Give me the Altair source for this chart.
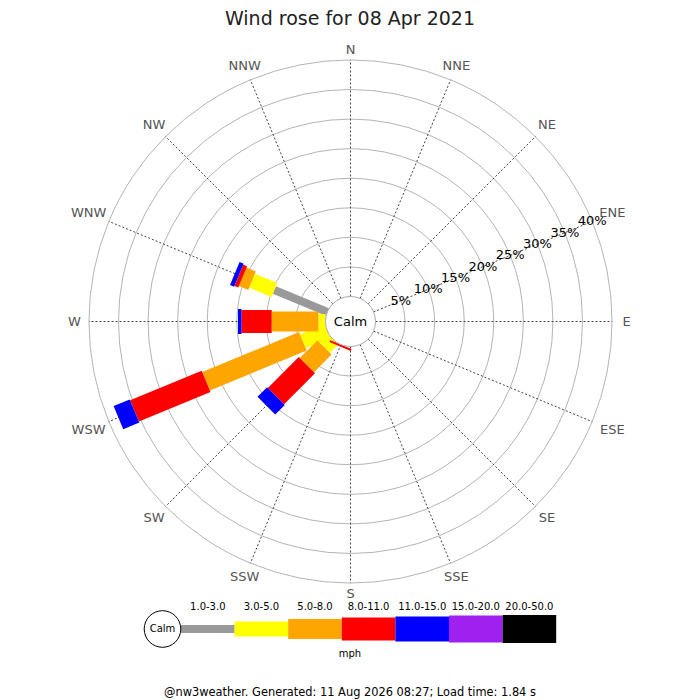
import altair as alt
import pandas as pd

# ---------------- data ----------------
directions = ["N", "NNE", "NE", "ENE", "E", "ESE", "SE", "SSE",
              "S", "SSW", "SW", "WSW", "W", "WNW", "NW", "NNW"]
bands = ["1.0-3.0", "3.0-5.0", "5.0-8.0", "8.0-11.0", "11.0-15.0", "15.0-20.0", "20.0-50.0"]
band_colors = ["#999999", "#ffff00", "#ffa500", "#ff0000", "#0000ff", "#a020f0", "#000000"]
band_widths = [8, 15, 20, 23, 25, 27, 28]

#            N  NNE NE ENE E ESE SE SSE S  SSW   SW   WSW   W    WNW   NW NNW
pct_1_3   = [0, 0, 0, 0, 0, 0, 0, 0, 0, 0,    0.0, 0.0,  0.0, 9.7,  0, 0]
pct_3_5   = [0, 0, 0, 0, 0, 0, 0, 0, 0, 0,    2.0, 4.5,  1.2, 4.1,  0, 0]
pct_5_8   = [0, 0, 0, 0, 0, 0, 0, 0, 0, 0,    4.2, 17.7, 7.9, 1.7,  0, 0]
pct_8_11  = [0, 0, 0, 0, 0, 0, 0, 0, 0, 0.35, 7.4, 13.1, 5.1, 0.7,  0, 0]
pct_11_15 = [0, 0, 0, 0, 0, 0, 0, 0, 0, 0,    2.3, 2.95, 0.6, 0.75, 0, 0]
pct_15_20 = [0] * 16
pct_20_50 = [0] * 16
band_pcts = [pct_1_3, pct_3_5, pct_5_8, pct_8_11, pct_11_15, pct_15_20, pct_20_50]

rings = [5, 10, 15, 20, 25, 30, 35, 40]
title_text = "Wind rose for 08 Apr 2021"
footer_text = "@nw3weather. Generated: 11 Aug 2026 08:27; Load time: 1.84 s"
unit_text = "mph"
calm_text = "Calm"

# ---------------- geometry / style ----------------
W, H = 684, 692
CX, CY = 342.5, 313.5      # centre of rose (chart-local px)
K = 5.914                  # px per percent
R0 = 25.0                  # calm circle radius, px
r0u = R0 / K
FONT = "DejaVu Sans"

xs = alt.Scale(domain=[-CX / K, (W - CX) / K], nice=False, zero=False)
ys = alt.Scale(domain=[-(H - CY) / K, CY / K], nice=False, zero=False)


def ux(px):
    return (px - 8 - CX) / K


def uy(py):
    return (CY - (py - 8)) / K


color_scale = alt.Scale(domain=bands, range=band_colors)
width_scale = alt.Scale(type="ordinal", domain=bands, range=band_widths)

rows = []
for bi, (b, vals) in enumerate(zip(bands, band_pcts)):
    for di, (d, v) in enumerate(zip(directions, vals)):
        rows.append({"dir": d, "dir_i": di, "band": b, "band_i": bi, "pct": v})
long_df = pd.DataFrame(rows)

dir_df = pd.DataFrame({"dir": directions, "dir_i": list(range(len(directions)))})
ring_df = pd.DataFrame({"pct": rings})
band_df = pd.DataFrame({"band": bands, "band_i": list(range(len(bands)))})

# rings
ring_layer = alt.Chart(ring_df).transform_calculate(
    zx="0", zy="0", ru=f"{r0u} + datum.pct"
).mark_point(shape="circle", filled=False, color="#b4b4b4", strokeWidth=1, opacity=1).encode(
    x=alt.X("zx:Q", scale=xs, axis=None),
    y=alt.Y("zy:Q", scale=ys, axis=None),
    size=alt.Size("ru:Q", scale=alt.Scale(type="pow", exponent=2, domain=[0, 1],
                                          range=[0, (2 * K) ** 2], nice=False), legend=None),
)

# spokes
spoke_layer = alt.Chart(dir_df).transform_calculate(
    a="datum.dir_i * PI / 8",
    r1=f"{r0u}",
    r2=f"{r0u} + {rings[-1]}",
    sx="datum.r1 * sin(datum.a)", sy="datum.r1 * cos(datum.a)",
    ex="datum.r2 * sin(datum.a)", ey="datum.r2 * cos(datum.a)",
).mark_rule(color="#444444", strokeWidth=1, strokeDash=[2, 2]).encode(
    x=alt.X("sx:Q", scale=xs, axis=None),
    y=alt.Y("sy:Q", scale=ys, axis=None),
    x2="ex:Q", y2="ey:Q",
)

# bars
bar_layer = alt.Chart(long_df).transform_window(
    cum="sum(pct)", groupby=["dir"], sort=[alt.SortField("band_i")], frame=[None, 0]
).transform_filter("datum.pct > 0").transform_calculate(
    a="datum.dir_i * PI / 8",
    r1=f"{r0u} + datum.cum - datum.pct",
    r2=f"{r0u} + datum.cum",
    sx="datum.r1 * sin(datum.a)", sy="datum.r1 * cos(datum.a)",
    ex="datum.r2 * sin(datum.a)", ey="datum.r2 * cos(datum.a)",
).mark_rule(strokeCap="butt", opacity=1).encode(
    x=alt.X("sx:Q", scale=xs, axis=None),
    y=alt.Y("sy:Q", scale=ys, axis=None),
    x2="ex:Q", y2="ey:Q",
    color=alt.Color("band:N", scale=color_scale, legend=None),
    strokeWidth=alt.StrokeWidth("band:N", scale=width_scale, legend=None),
)

# calm circle + text
calm_df = pd.DataFrame({"t": [calm_text]})
calm_circle = alt.Chart(calm_df).transform_calculate(zx="0", zy="0").mark_point(
    shape="circle", filled=True, fill="white", stroke="#aaaaaa", strokeWidth=1, opacity=1,
    size=(2 * R0) ** 2
).encode(x=alt.X("zx:Q", scale=xs, axis=None), y=alt.Y("zy:Q", scale=ys, axis=None))
calm_label = alt.Chart(calm_df).transform_calculate(zx="0", zy="0").mark_text(
    font=FONT, fontSize=13, color="black", align="center", baseline="middle"
).encode(x=alt.X("zx:Q", scale=xs, axis=None), y=alt.Y("zy:Q", scale=ys, axis=None), text="t:N")

# percent labels along ENE spoke
pct_labels = alt.Chart(ring_df).transform_calculate(
    a="3 * PI / 8",
    r=f"{r0u} + datum.pct",
    lx="datum.r * sin(datum.a)", ly="datum.r * cos(datum.a)",
    lab="datum.pct + '%'",
).mark_text(font=FONT, fontSize=13, color="black", align="center", baseline="middle").encode(
    x=alt.X("lx:Q", scale=xs, axis=None), y=alt.Y("ly:Q", scale=ys, axis=None), text="lab:N"
)

# direction labels
dir_labels = alt.Chart(dir_df).transform_calculate(
    a="datum.dir_i * PI / 8",
    r=f"{272 / K} + 0.7 * length(datum.dir) * abs(sin(datum.a))",
    lx="datum.r * sin(datum.a)", ly="datum.r * cos(datum.a)",
).mark_text(font=FONT, fontSize=13, color="#555555", align="center", baseline="middle").encode(
    x=alt.X("lx:Q", scale=xs, axis=None), y=alt.Y("ly:Q", scale=ys, axis=None), text="dir:N"
)

# legend
LX0, LW, LY, LLY = ux(181), 53.6 / K, uy(629), uy(607)
leg_bars = alt.Chart(band_df).transform_calculate(
    sx=f"{LX0} + datum.band_i * {LW}", ex=f"{LX0} + (datum.band_i + 1) * {LW}",
    sy=f"{LY}", ey=f"{LY}",
).mark_rule(strokeCap="butt", opacity=1).encode(
    x=alt.X("sx:Q", scale=xs, axis=None),
    y=alt.Y("sy:Q", scale=ys, axis=None),
    x2="ex:Q", y2="ey:Q",
    color=alt.Color("band:N", scale=color_scale, legend=None),
    strokeWidth=alt.StrokeWidth("band:N", scale=width_scale, legend=None),
)
leg_labels = alt.Chart(band_df).transform_calculate(
    lx=f"{LX0} + (datum.band_i + 0.5) * {LW}", ly=f"{LLY}",
).mark_text(font=FONT, fontSize=10, color="black", align="center", baseline="middle").encode(
    x=alt.X("lx:Q", scale=xs, axis=None), y=alt.Y("ly:Q", scale=ys, axis=None), text="band:N"
)
leg_calm = alt.Chart(calm_df).transform_calculate(lx=f"{ux(162.5)}", ly=f"{LY}").mark_point(
    shape="circle", filled=True, fill="white", stroke="black", strokeWidth=1, opacity=1,
    size=36.6 ** 2
).encode(x=alt.X("lx:Q", scale=xs, axis=None), y=alt.Y("ly:Q", scale=ys, axis=None))
leg_calm_t = alt.Chart(calm_df).transform_calculate(lx=f"{ux(162.5)}", ly=f"{LY}").mark_text(
    font=FONT, fontSize=10, color="black", align="center", baseline="middle"
).encode(x=alt.X("lx:Q", scale=xs, axis=None), y=alt.Y("ly:Q", scale=ys, axis=None), text="t:N")

unit_t = alt.Chart(pd.DataFrame({"t": [unit_text]})).mark_text(
    font=FONT, fontSize=10, color="black", align="center", baseline="middle"
).encode(x=alt.value(342), y=alt.value(646), text="t:N")

title_t = alt.Chart(pd.DataFrame({"t": [title_text]})).mark_text(
    font=FONT, fontSize=19, color="#222222", align="center", baseline="alphabetic"
).encode(x=alt.value(342), y=alt.value(17), text="t:N")

footer_t = alt.Chart(pd.DataFrame({"t": [footer_text]})).mark_text(
    font=FONT, fontSize=11.4, color="black", align="center", baseline="alphabetic"
).encode(x=alt.value(342), y=alt.value(688), text="t:N")

chart = alt.layer(
    ring_layer, spoke_layer, bar_layer, calm_circle, calm_label, pct_labels, dir_labels,
    leg_bars, leg_calm, leg_calm_t, leg_labels, unit_t, title_t, footer_t
).properties(
    width=W, height=H, padding=0, autosize=alt.AutoSizeParams(type="none"), background="white"
).configure_view(stroke=None)

chart.save("out.html", embed_options={"renderer": "svg", "actions": False})
